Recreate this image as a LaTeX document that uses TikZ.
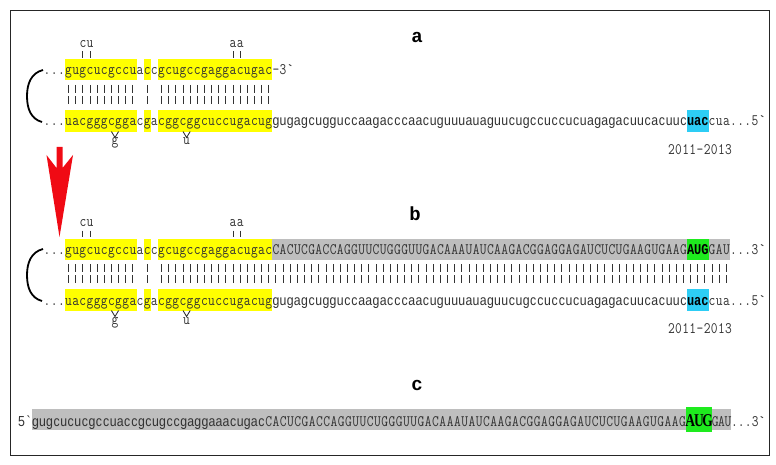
\documentclass[tikz,border=0pt]{standalone}
\usepackage{fontspec}
\usepackage{graphicx}
\newfontfamily\sqsansf{Liberation Sans}
\newfontfamily\monob{Liberation Mono}
\newfontfamily\serifb{Liberation Serif}
\definecolor{txt}{RGB}{50,50,50}
\definecolor{hly}{RGB}{255,255,0}
\definecolor{hlg}{RGB}{190,190,190}
\definecolor{hlc}{RGB}{45,205,245}
\definecolor{hlgreen}{RGB}{30,235,30}
\definecolor{arrred}{RGB}{240,10,20}
\newdimen\cw \cw=7.15pt
\def\msx{0.82}
\def\msEnd{@@}
\def\ms#1{\msA#1\msEnd}
\def\msA#1{\ifx#1\msEnd\else\hbox to\cw{\hss\scalebox{\msx}[1]{#1}\hss}\expandafter\msA\fi}
\newcommand\cour{\ttfamily\fontsize{16}{18}\selectfont\def\msx{0.82}}
\newcommand\sqsans{\sqsansf\fontsize{14.5}{17}\selectfont\def\msx{0.85}}
\newcommand\boldm{\monob\bfseries\fontsize{15}{17}\selectfont\def\msx{0.8}}
\newcommand\hlr[5]{\fill[#1] ({65+#2*7.15},#4) rectangle ({65+(#3+1)*7.15},#5);}
\tikzset{
 seq/.style={anchor=base west, inner sep=0pt, outer sep=0pt, text=txt},
 mmlabel/.style={anchor=base, inner sep=0pt, outer sep=0pt, text=txt},
 lab/.style={inner sep=0pt, font=\monob\bfseries\fontsize{19}{21}\selectfont, text=black},
 pairbar/.style={line width=0.9pt, draw=black!80},
 brk/.style={line width=1.8pt, draw=black},
}
\begin{document}
\begin{tikzpicture}[x=1pt,y=-1pt]
\useasboundingbox (0,0) rectangle (776,465);
\draw[line width=1.8pt, black!85] (10.5,10.5) rectangle (769.5,455.5);

% ---------- panel a ----------
\node[lab] (la) at (417,37) {a};
\hlr{hly}{0}{9}{59.5}{80.5}
\hlr{hly}{11}{11}{59.5}{80.5}
\hlr{hly}{13}{28}{59.5}{80.5}
\hlr{hly}{0}{9}{110}{132}
\hlr{hly}{11}{11}{110}{132}
\hlr{hly}{13}{28}{110}{132}
\hlr{hlc}{87}{89}{110}{132}
\node[seq] (aU0) at (43.55,75) {\cour\ms{...gugcucgccuaccgcugccgaggacugac-3`}};
\node[seq] (aL0) at (43.55,126) {\cour\ms{...uacgggcggacgacggcggcuccugacug}};
\node[seq] (aL1) at (272.35,126) {\sqsans\ms{gugagcugguccaagacccaacuguuuauaguucugccuccucuagagacuucacuuc}};
\node[seq, text=black] (aL2) at (687.05,126) {\boldm\ms{uac}};
\node[seq] (aL3) at (708.5,126) {\cour\ms{cua...5`}};
\foreach \i in {0,...,9,11} {\draw[pairbar] ({65+(\i+0.5)*7.15},85) -- ++(0,8); \draw[pairbar] ({65+(\i+0.5)*7.15},96) -- ++(0,8);}
\foreach \i in {13,...,28} {\draw[pairbar] ({65+(\i+0.5)*7.15},85) -- ++(0,8); \draw[pairbar] ({65+(\i+0.5)*7.15},96) -- ++(0,8);}
\foreach \i in {2,3,23,24} {\draw[pairbar] ({65+(\i+0.5)*7.15},51.5) -- ++(0,6.5);}
\node[mmlabel] (acu) at (86.5,47.5) {\cour\ms{cu}};
\node[mmlabel] (aaa) at (236.6,47.5) {\cour\ms{aa}};
\draw[pairbar] (111.4,131.5) -- (115,137.5) -- (118.6,131.5);
\draw[pairbar] (183,131.5) -- (186.6,137.5) -- (190.2,131.5);
\node[mmlabel] (ag) at (115,145) {\cour\ms{g}};
\node[mmlabel] (au) at (186.6,145) {\cour\ms{u}};
\node[inner sep=0pt, text=txt] (ayr) at (700,150) {\cour\ms{2011-2013}};
\draw[brk] (43,70) .. controls (31,73) and (27,84) .. (27,96) .. controls (27,109) and (31,119) .. (42,122);

% ---------- arrow ----------
\fill[arrred] (56.5,147) -- (62.5,147) -- (62.5,168) -- (73,155) -- (59.5,237) -- (46.5,155) -- (56.5,168) -- cycle;

% ---------- panel b ----------
\node[lab] (lb) at (415,214) {b};
\hlr{hly}{0}{9}{238.5}{259.5}
\hlr{hly}{11}{11}{238.5}{259.5}
\hlr{hly}{13}{28}{238.5}{259.5}
\hlr{hlg}{29}{92}{238.5}{259.5}
\hlr{hlgreen}{87}{89}{238.5}{259.5}
\hlr{hly}{0}{9}{289}{311}
\hlr{hly}{11}{11}{289}{311}
\hlr{hly}{13}{28}{289}{311}
\hlr{hlc}{87}{89}{289}{311}
\node[seq] (bU0) at (43.55,254) {\cour\ms{...gugcucgccuaccgcugccgaggacugac}};
\node[seq] (bU1) at (272.35,254) {\cour\ms{CACUCGACCAGGUUCUGGGUUGACAAAUAUCAAGACGGAGGAGAUCUCUGAAGUGAAG}};
\node[seq, text=black] (bU2) at (687.05,254) {\boldm\ms{AUG}};
\node[seq] (bU3) at (708.5,254) {\cour\ms{GAU...3`}};
\node[seq] (bL0) at (43.55,305) {\cour\ms{...uacgggcggacgacggcggcuccugacug}};
\node[seq] (bL1) at (272.35,305) {\sqsans\ms{gugagcugguccaagacccaacuguuuauaguucugccuccucuagagacuucacuuc}};
\node[seq, text=black] (bL2) at (687.05,305) {\boldm\ms{uac}};
\node[seq] (bL3) at (708.5,305) {\cour\ms{cua...5`}};
\foreach \i in {0,...,9,11} {\draw[pairbar] ({65+(\i+0.5)*7.15},264) -- ++(0,8); \draw[pairbar] ({65+(\i+0.5)*7.15},275) -- ++(0,8);}
\foreach \i in {13,...,92} {\draw[pairbar] ({65+(\i+0.5)*7.15},264) -- ++(0,8); \draw[pairbar] ({65+(\i+0.5)*7.15},275) -- ++(0,8);}
\foreach \i in {2,3,23,24} {\draw[pairbar] ({65+(\i+0.5)*7.15},230.5) -- ++(0,6.5);}
\node[mmlabel] (bcu) at (86.5,226.5) {\cour\ms{cu}};
\node[mmlabel] (baa) at (236.6,226.5) {\cour\ms{aa}};
\draw[pairbar] (111.4,310.5) -- (115,316.5) -- (118.6,310.5);
\draw[pairbar] (183,310.5) -- (186.6,316.5) -- (190.2,310.5);
\node[mmlabel] (bg) at (115,324) {\cour\ms{g}};
\node[mmlabel] (bu) at (186.6,324) {\cour\ms{u}};
\node[inner sep=0pt, text=txt] (byr) at (700,329) {\cour\ms{2011-2013}};
\draw[brk] (43,249) .. controls (31,252) and (27,263) .. (27,275) .. controls (27,288) and (31,298) .. (42,301);

% ---------- panel c ----------
\node[lab] (lc) at (417,385) {c};
\fill[hlg] (32,408.5) rectangle (731,430);
\fill[hlgreen] (686,407) rectangle (712,432);
\node[seq] (c0) at (18,426) {\sqsans\ms{5`}};
\node[seq] (c1) at (32,426) {\cw=7.06pt\sqsans\ms{gugcucucgccuaccgcugccgaggaaacugac}};
\node[seq] (c2) at (265,426) {\cw=7.26pt\cour\ms{CACUCGACCAGGUUCUGGGUUGACAAAUAUCAAGACGGAGGAGAUCUCUGAAGUGAAG}};
\node[seq, text=black] (c3) at (686,426.5) {\cw=8.67pt\serifb\bfseries\fontsize{18}{20}\selectfont\def\msx{0.75}\ms{AUG}};
\node[seq] (c4) at (712,426) {\cw=6.4pt\cour\ms{GAU}};
\node[seq] (c5) at (731,426) {\cw=6.9pt\cour\ms{...3`}};
\end{tikzpicture}
\end{document}
